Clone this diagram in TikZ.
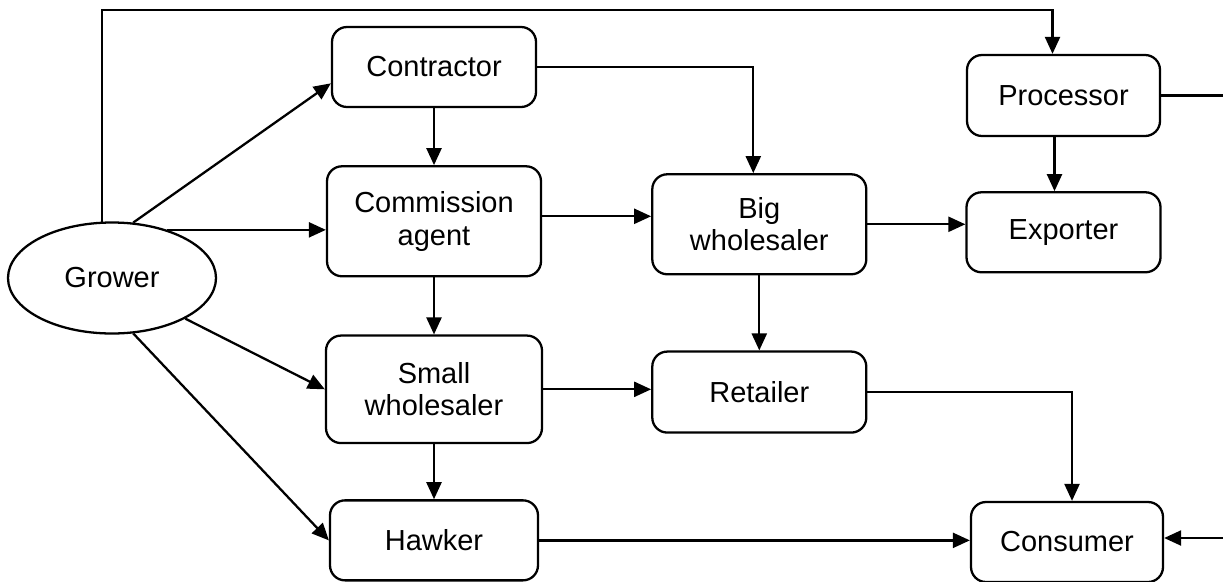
\documentclass[tikz,border=0pt]{standalone}
\usepackage{fontspec}
\setmainfont{Liberation Sans}
\usetikzlibrary{arrows.meta}
\usetikzlibrary{shapes.geometric}
\usetikzlibrary{positioning}

\begin{document}
\begin{tikzpicture}[>={Triangle[length=3.4mm,width=3mm]}, line width=1.3pt]
        \tikzset{block/.style= {draw, rectangle, rounded corners=0.3cm, align=center, minimum width=4.2cm, minimum height=1.6cm, font=\fontsize{16.5}{18.5}\selectfont},
        tblock/.style={block, minimum height=2.15cm},
        oval/.style={draw, ellipse, minimum width=4.16cm, minimum height=2.22cm, font=\fontsize{16.5}{18.5}\selectfont},
        }
        \useasboundingbox (0,0) rectangle (24.46,11.62);
        \node [oval] at (2.24,6.06) (grower) {Grower};
        \node [block, minimum width=4.08cm] at (8.68,10.28) (contractor) {Contractor};
        \node [tblock, minimum width=4.28cm, minimum height=2.2cm, below =1.14cm of contractor] (agent) {Commission\\agent};
        \node [tblock, minimum width=4.32cm, below =1.14cm of agent] (small) {Small\\wholesaler};
        \node [block, minimum width=4.16cm, below =1.1cm of small] (hawker) {Hawker};
        \node [tblock, minimum width=4.28cm, minimum height=2cm, right =2.18cm of agent, yshift=-0.06cm] (big) {Big\\wholesaler};
        \node [block, minimum width=4.28cm, minimum height=1.62cm, below =1.5cm of big] (retailer) {Retailer};
        \node [block, minimum width=3.86cm, minimum height=1.62cm] at (21.27,9.71) (processor) {Processor};
        \node [block, minimum width=3.88cm, below =1.08cm of processor] (exporter) {Exporter};
        \node [block, minimum width=3.84cm] at (21.34,0.78) (consumer) {Consumer};
        \coordinate (top) at (10,11.42);  %% top line
        \coordinate (procin) at ([xshift=-0.22cm]processor.north);
        \coordinate (bigin) at ([xshift=-0.12cm]big.north);
        \coordinate (procout) at (24.46,9.71);  %% leaves on the right
        \coordinate (consin) at (24.46,0.86);  %% comes in from the right

%% paths
        \path[->] (grower.69) edge (contractor.189)
                    (grower.41) edge (grower.41 -| agent.west)
                    (grower.-29) edge (small.west)
                    (grower.-69) edge (hawker.west)
                    (contractor) edge (contractor |- agent.north)
                    ([yshift=0.1cm]agent.east) edge ([yshift=0.1cm]agent.east -| big.west)
                    (agent) edge (agent |- small.north)
                    (big.east) edge (big.east -| exporter.west)
                    (big) edge (big |- retailer.north)
                    (small.east) edge (small.east -| retailer.west)
                    (small) edge (small |- hawker.north)
                    (hawker.east) edge (hawker.east -| consumer.west)
                    ([xshift=-0.18cm]processor.south) edge ([xshift=-0.18cm]processor.south |- exporter.north)
                    (consin) edge (consin -| consumer.east)
                    ;
        \draw[->] (grower.100) |- (top) -| (procin);
        \draw[->] (contractor.east) -| (bigin);
        \draw[->] (retailer.east) -| ([xshift=0.1cm]consumer.north);
        \draw (processor.east) -- (procout);
    \end{tikzpicture}
\end{document}
